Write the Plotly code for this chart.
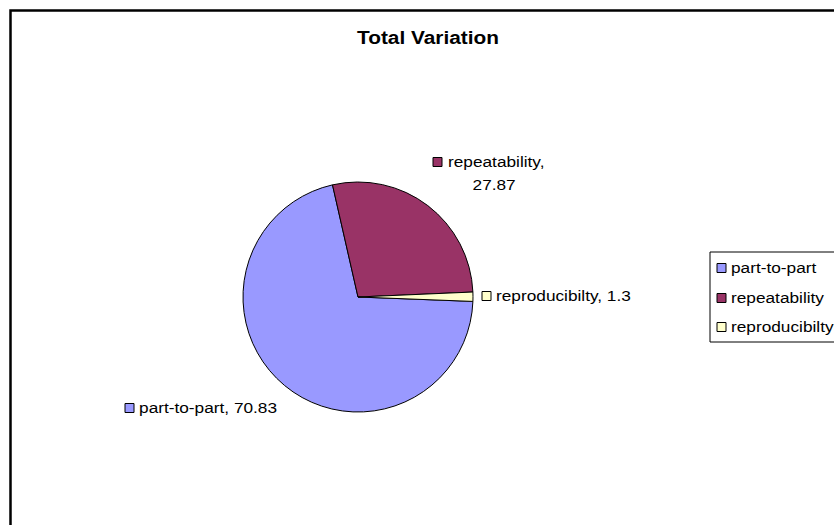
import plotly.graph_objects as go

# Variance components (% of total variation)
components = ["part-to-part", "repeatability", "reproducibilty"]
variation_pct = [70.83, 27.87, 1.3]

# Styling
slice_colors = ["#9999FF", "#993366", "#FFFFCC"]
FONT = "Liberation Sans, Arial, sans-serif"
W, H = 834, 525
TEXT_STRETCH = 1.19  # horizontal scaling applied to all chart text


def px(x):
    return x / W


def py(y):
    return 1 - y / H


# Pie placement in pixels: centre and radius
CX, CY, R = 358, 297, 115
START_ANGLE = 92.2

fig = go.Figure(
    go.Pie(
        labels=components,
        values=variation_pct,
        marker=dict(colors=slice_colors, line=dict(color="black", width=1)),
        sort=False,
        direction="clockwise",
        rotation=START_ANGLE,
        textinfo="none",
        hoverinfo="label+value",
        showlegend=False,
        domain=dict(x=[px(CX - R), px(CX + R)], y=[py(CY + R), py(CY - R)]),
    )
)

shapes = []
annotations = []

LABEL_SIZE = 14.5
KEY = 9


def key_box(x_left, y_mid, color):
    shapes.append(dict(
        type="rect", xref="paper", yref="paper",
        x0=px(x_left), x1=px(x_left + KEY),
        y0=py(y_mid + KEY / 2), y1=py(y_mid - KEY / 2),
        fillcolor=color, line=dict(color="black", width=1),
    ))


def text_at(x, y, txt, xanchor="left", size=LABEL_SIZE):
    annotations.append(dict(
        x=px(x), y=py(y), xref="paper", yref="paper", text=txt,
        showarrow=False, xanchor=xanchor, yanchor="middle",
        font=dict(family=FONT, size=size, color="black"),
    ))


# Data labels: key-square left edge and row centre (pixels)
label_pos = {
    "part-to-part": (125, 408),
    "repeatability": (433, 162),
    "reproducibilty": (482, 296),
}
for name, val, col in zip(components, variation_pct, slice_colors):
    kx, ky = label_pos[name]
    key_box(kx, ky, col)
    if name == "repeatability":
        text_at(kx + KEY + 4, ky, f"{name},")
        text_at(kx + 61, ky + 23, f"{val:g}", xanchor="center")
    else:
        text_at(kx + KEY + 3, ky, f"{name}, {val:g}")

# Legend panel
LEG_X0, LEG_Y0, LEG_Y1 = 710, 252, 342
shapes.append(dict(
    type="rect", xref="paper", yref="paper",
    x0=px(LEG_X0), x1=px(W + 20), y0=py(LEG_Y1), y1=py(LEG_Y0),
    line=dict(color="black", width=1), fillcolor="rgba(0,0,0,0)",
))
legend_rows = [268, 298, 327]
for name, col, ry in zip(components, slice_colors, legend_rows):
    key_box(717, ry, col)
    text_at(729, ry, name)

# Chart-area border
shapes.append(dict(
    type="rect", xref="paper", yref="paper",
    x0=px(10.5), x1=px(W + 20), y0=py(H + 20), y1=py(10.5),
    line=dict(color="black", width=2.5), fillcolor="rgba(0,0,0,0)",
))

fig.update_layout(
    width=W, height=H,
    margin=dict(l=0, r=0, t=0, b=0),
    paper_bgcolor="white",
    plot_bgcolor="white",
    title=dict(
        text="<b>Total Variation</b>",
        x=px(428), y=py(38), xanchor="center", yanchor="middle",
        xref="paper", yref="paper",
        font=dict(family=FONT, size=17.5, color="black"),
    ),
    shapes=shapes,
    annotations=annotations,
)

# Widen the rendered text horizontally, keeping each label's anchor edge fixed
stretch_js = """
var gd = document.getElementById('{plot_id}');
var k = %s;
gd.querySelectorAll('g.annotation').forEach(function (g) {
  var a = gd.layout.annotations[+g.getAttribute('data-index')];
  var t = g.querySelector('text.annotation-text');
  if (!t || !a) return;
  t.style.transformBox = 'fill-box';
  t.style.transformOrigin = (a.xanchor === 'left' ? 'left' : 'center') + ' center';
  t.style.transform = 'scaleX(' + k + ')';
});
gd.querySelectorAll('text.gtitle').forEach(function (t) {
  t.style.transformBox = 'fill-box';
  t.style.transformOrigin = 'center center';
  t.style.transform = 'scaleX(' + k + ')';
});
""" % TEXT_STRETCH

fig.write_html("out.html", post_script=stretch_js)
